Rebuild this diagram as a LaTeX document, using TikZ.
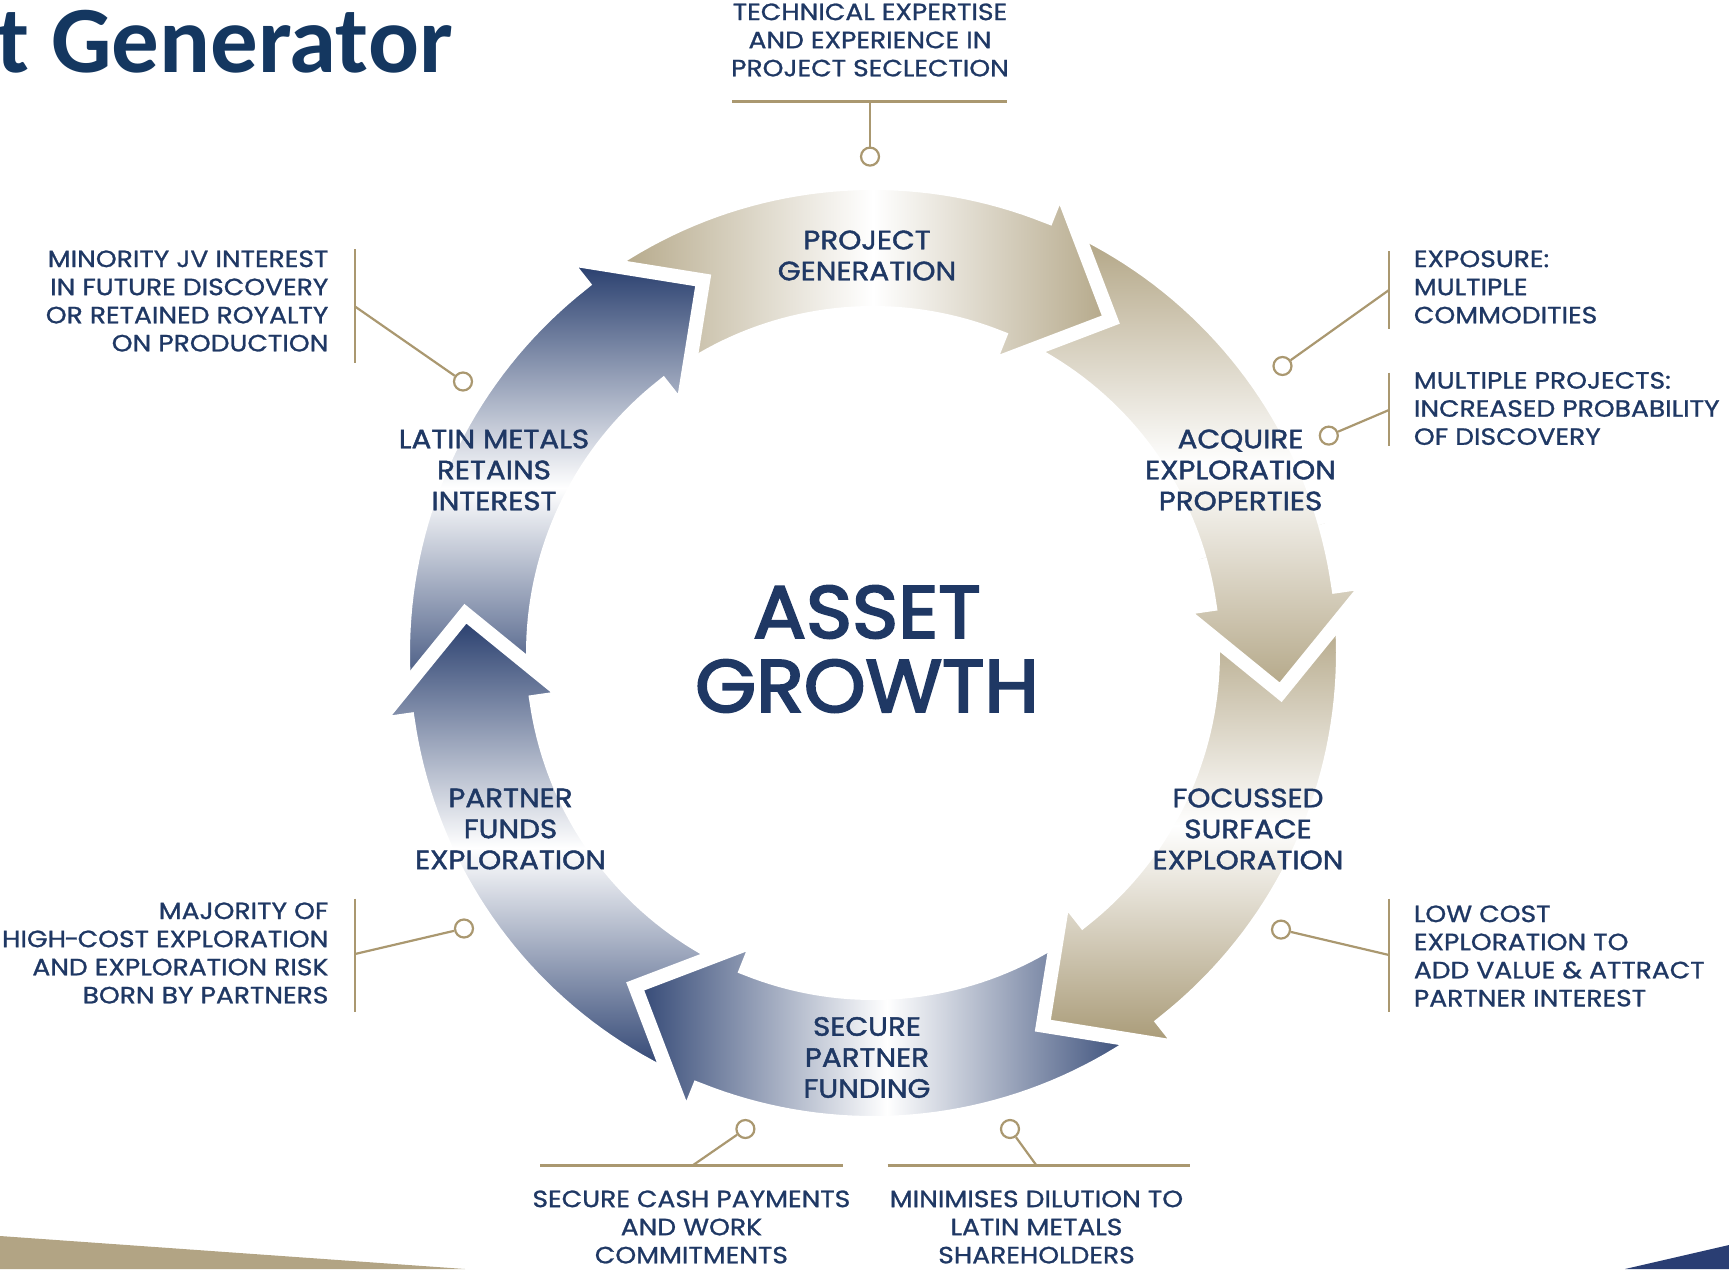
\documentclass[tikz,border=0pt]{standalone}
\usepackage{fontspec}
\setmainfont{Poppins}
\newfontfamily\lblfont{Poppins}[FakeBold=1.1, FakeStretch=1.13]
\newfontfamily\arrfont{Poppins}[FakeBold=1.6, FakeStretch=1.11]
\newfontfamily\bigfont{Poppins}[FakeBold=3, FakeStretch=1.06]
\newfontfamily\ttlfont{Carlito}
\definecolor{txtnavy}{RGB}{31,56,100}
\definecolor{ttlnavy}{RGB}{20,55,96}
\definecolor{arrnavy}{RGB}{30,53,103}
\definecolor{arrtan}{RGB}{172,158,123}
\definecolor{arrtanD}{RGB}{165,150,113}
\definecolor{leadtan}{RGB}{170,152,112}
\definecolor{decotan}{RGB}{178,164,132}
\definecolor{deconavy}{RGB}{42,62,115}
\newcommand\ringshape{(\rgTail:470) -- plot[domain=\rgTail:\rgHead, samples=40, variable=\ang] (\ang:470) -- (\rgHead:503) -- (\rgTip:409.5) -- (\rgHead:308.5) -- plot[domain=\rgHead:\rgTail, samples=40, variable=\ang] (\ang:340) -- cycle}
\newcommand\RingArrow[4]{%
  \pgfmathsetmacro\rgTail{#1-5}%
  \pgfmathsetmacro\rgHead{#1+52.8}%
  \pgfmathsetmacro\rgTip{#1+66.5}%
  \begin{scope}
    \clip \ringshape;
    \shade[#2] #3 rectangle #4;
  \end{scope}
  \path[gapline] \ringshape;
}
\begin{document}
\begin{tikzpicture}[x=1pt,y=-1pt,
  lbl/.style={text=txtnavy, font=\lblfont\fontsize{23.5}{28.1}\selectfont, inner sep=0pt},
  arrlbl/.style={text=txtnavy, font=\arrfont\fontsize{26.5}{31}\selectfont, inner sep=0pt, align=center},
  lead/.style={draw=leadtan, line width=2.2pt},
  dot/.style={circle, draw=leadtan, fill=white, line width=2.2pt, minimum size=18pt, inner sep=0pt},
  gapline/.style={draw=white, line width=14pt, line join=miter, miter limit=20}
]
\useasboundingbox (0,0) rectangle (1729,1269);

% corner decorations
\fill[decotan] (0,1236) -- (465,1269) -- (0,1269) -- cycle;
\fill[deconavy] (1625,1269) -- (1729,1245) -- (1729,1269) -- cycle;

% ring of arrows
\begin{scope}[shift={(873,653)}]
  \RingArrow{-61}{top color=arrtan, bottom color=arrtan, middle color=white}{(130,-435)}{(540,60)}
  \RingArrow{-121}{left color=arrtan, right color=arrtanD, middle color=white}{(-285,-480)}{(285,-260)}
  \RingArrow{179}{top color=arrnavy, bottom color=arrnavy, middle color=white}{(-480,-400)}{(-150,70)}
  \RingArrow{119}{top color=arrnavy, bottom color=arrnavy, middle color=white}{(-510,-45)}{(-130,435)}
  \RingArrow{59}{left color=arrnavy, right color=arrnavy, middle color=white}{(-262,230)}{(290,530)}
  \RingArrow{-1}{top color=arrtan, bottom color=arrtanD, middle color=white}{(150,-55)}{(520,400)}
  \begin{scope}
    \clip (0,0) -- (-16:650) -- (0:650) -- (22:650) -- cycle;
    \RingArrow{-61}{top color=arrtan, bottom color=arrtan, middle color=white}{(130,-435)}{(540,60)}
  \end{scope}
\end{scope}

% arrow labels
\node[arrlbl] (pg) at (867,255.5) {PROJECT\\GENERATION};
\node[arrlbl] (acq) at (1240.5,470) {ACQUIRE\\EXPLORATION\\PROPERTIES};
\node[arrlbl] (foc) at (1248,829) {FOCUSSED\\SURFACE\\EXPLORATION};
\node[arrlbl] (sec) at (867,1057.5) {SECURE\\PARTNER\\FUNDING};
\node[arrlbl] (pf) at (510.5,829) {PARTNER\\FUNDS\\EXPLORATION};
\node[arrlbl] (lm) at (494,470) {LATIN METALS\\RETAINS\\INTEREST};

\node[text=txtnavy, font=\bigfont\fontsize{74}{74}\selectfont, align=center, inner sep=0pt] (asset) at (867,649) {ASSET\\GROWTH};

\node[text=ttlnavy, font=\ttlfont\bfseries\fontsize{95}{95}\selectfont, anchor=base east, inner sep=0pt] (title) at (453,72) {t Generator};

% side labels
\node[lbl, align=center] (tech) at (870,40) {TECHNICAL EXPERTISE\\AND EXPERIENCE IN\\PROJECT SECLECTION};
\node[lbl, align=right, anchor=east] (minor) at (328.6,301) {MINORITY JV INTEREST\\IN FUTURE DISCOVERY\\OR RETAINED ROYALTY\\ON PRODUCTION};
\node[lbl, align=left, anchor=west] (expo) at (1413.7,287) {EXPOSURE:\\MULTIPLE\\COMMODITIES};
\node[lbl, align=left, anchor=west] (multi) at (1413.7,408.5) {MULTIPLE PROJECTS:\\INCREASED PROBABILITY\\OF DISCOVERY};
\node[lbl, align=left, anchor=west] (low) at (1413.7,956) {LOW COST\\EXPLORATION TO\\ADD VALUE \& ATTRACT\\PARTNER INTEREST};
\node[lbl, align=right, anchor=east] (major) at (328.6,953) {MAJORITY OF\\HIGH\kern-1.5pt-\kern-1.5ptCOST EXPLORATION\\AND EXPLORATION RISK\\BORN BY PARTNERS};
\node[lbl, align=center] (cash) at (691.4,1227) {SECURE CASH PAYMENTS\\AND WORK\\COMMITMENTS};
\node[lbl, align=center] (dilu) at (1036.5,1227) {MINIMISES DILUTION TO\\LATIN METALS\\SHAREHOLDERS};

% leader coordinates
\coordinate (h1a) at (732,101.5); \coordinate (h1b) at (1007,101.5); \coordinate (j1) at (870,101.5);
\coordinate (v2a) at (355,249); \coordinate (v2b) at (355,363); \coordinate (j2) at (355,306.5);
\coordinate (v3a) at (1389,251); \coordinate (v3b) at (1389,329); \coordinate (j3) at (1389,290);
\coordinate (v4a) at (1389,372.7); \coordinate (v4b) at (1389,445.5); \coordinate (j4) at (1389,410);
\coordinate (v5a) at (1389,898.7); \coordinate (v5b) at (1389,1012); \coordinate (j5) at (1389,955);
\coordinate (v6a) at (355,898.7); \coordinate (v6b) at (355,1012); \coordinate (j6) at (355,954);
\coordinate (h7a) at (540,1165.5); \coordinate (h7b) at (842.5,1165.5); \coordinate (j7) at (692.5,1165.5);
\coordinate (h8a) at (887.7,1165.5); \coordinate (h8b) at (1190,1165.5); \coordinate (j8) at (1036.5,1165.5);

\node[dot] (d1) at (870,156.6) {};
\node[dot] (d2) at (463,381.5) {};
\node[dot] (d3) at (1282.5,366) {};
\node[dot] (d4) at (1328.8,435.6) {};
\node[dot] (d5) at (1281,929.6) {};
\node[dot] (d6) at (464,928.5) {};
\node[dot] (d7) at (745.4,1129) {};
\node[dot] (d8) at (1010,1129) {};

\draw[lead] (h1a) -- (h1b); \draw[lead] (j1) -- (d1);
\draw[lead] (v2a) -- (v2b); \draw[lead] (j2) -- (d2);
\draw[lead] (v3a) -- (v3b); \draw[lead] (j3) -- (d3);
\draw[lead] (v4a) -- (v4b); \draw[lead] (j4) -- (d4);
\draw[lead] (v5a) -- (v5b); \draw[lead] (j5) -- (d5);
\draw[lead] (v6a) -- (v6b); \draw[lead] (j6) -- (d6);
\draw[lead] (h7a) -- (h7b); \draw[lead] (j7) -- (d7);
\draw[lead] (h8a) -- (h8b); \draw[lead] (j8) -- (d8);
\end{tikzpicture}
\end{document}
